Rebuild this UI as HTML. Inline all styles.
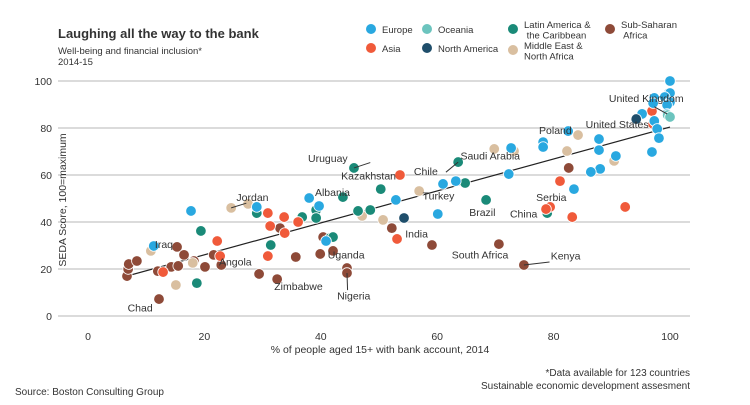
<!DOCTYPE html>
<html><head><meta charset="utf-8"><style>
body{margin:0;background:#fff}
svg text{font-family:"Liberation Sans",sans-serif;fill:#333}
</style></head><body>
<svg id="c" width="750" height="400">
<text x="58" y="38" font-size="13" font-weight="bold" fill="#111">Laughing all the way to the bank</text>
<text x="58" y="54" font-size="9.5" fill="#555">Well-being and financial inclusion*</text>
<text x="58" y="65" font-size="9.5" fill="#555"> 2014-15</text>
<g id="grid"></g><g id="pts"></g><g id="labels"></g><g id="legend"></g>
<text x="0" y="0" font-size="10.5" transform="translate(66,200) rotate(-90)" text-anchor="middle">SEDA Score, 100=maximum</text>
<text x="380" y="353" font-size="10.5" text-anchor="middle">% of people aged 15+ with bank account, 2014</text>
<text x="15" y="395" font-size="10">Source: Boston Consulting Group</text>
<text x="690" y="376" font-size="10" text-anchor="end">*Data available for 123 countries</text>
<text x="690" y="389" font-size="10" text-anchor="end">Sustainable economic development assesment</text>
</svg>
<script>
const xTicks=[0,20,40,60,80,100];
const yTicks=[0,20,40,60,80,100];
const regions=["Europe","Oceania","Latin America &\n the Caribbean","Sub-Saharan\n Africa","Asia","North America","Middle East &\nNorth Africa"];
const colors=["#29a8e0","#6cc4be","#1a8a78","#8e4a38","#f05a3a","#1f4e6b","#d9bfa0"];
const ssaX=[6.7,6.9,7.0,8.4,12.2,12.0,14.3,15.5,15.3,16.5,18.2,20.1,21.6,22.9,29.4,32.5,33.0,35.7,39.9,40.4,42.1,44.5,44.5,52.2,59.1,70.6,74.9,82.6];
const ssaY=[17.0,20.0,22.1,23.4,7.2,19.1,20.9,21.3,29.4,26.0,23.4,20.9,26.0,21.7,17.9,15.7,37.4,25.1,26.4,33.6,27.7,20.4,18.3,37.4,30.2,30.6,21.7,63.0];
const meX=[10.8,15.1,24.6,27.5,47.1,50.7,18.0,69.8,73.2,56.9,84.2,82.3,90.4];
const meY=[27.7,13.2,46.0,47.7,42.6,40.9,22.6,71.1,70.2,53.2,77.0,70.2,66.0];
const euX=[11.3,17.7,29.0,38.0,39.7,40.9,52.9,100,99.8,100,99.1,97.3,97.1,100,99.5,99.5,95.2,97.3,97.8,98.1,96.9,90.7,88.0,86.4,87.8,87.8,82.5,78.2,78.2,83.5,72.7,72.3,63.2,61.0,60.1];
const euY=[29.8,44.7,46.4,50.2,46.8,31.9,49.4,100,94.9,94.9,93.2,92.8,90.6,91.0,89.8,86.0,86.0,83.0,79.6,75.7,69.8,68.1,62.6,61.3,70.6,75.3,78.7,74.0,71.9,54.0,71.5,60.4,57.4,56.2,43.4];
const ocX=[99.6,100];
const ocY=[85.5,84.7];
const naX=[94.2,54.3];
const naY=[83.8,41.7];
const asX=[22.2,22.7,12.9,30.9,33.7,36.1,31.3,33.8,30.9,53.6,53.1,96.9,97.1,81.1,79.4,78.7,83.2,92.3];
const asY=[31.9,25.5,18.7,43.8,42.1,40.0,38.3,35.3,25.5,60.0,32.8,87.2,81.7,57.4,46.4,45.5,42.1,46.4];
const laX=[19.4,18.7,29.0,31.4,36.8,39.2,39.2,41.6,42.1,43.8,45.7,46.4,48.5,50.3,63.6,64.8,68.4,78.9];
const laY=[36.2,14.0,43.8,30.2,42.1,45.1,41.7,33.2,33.6,50.6,63.0,44.7,45.1,54.0,65.5,56.6,49.4,43.8];
const trendX=[6.7,100];
const trendY=[17.0,80.4];
const lblNames=["Uruguay","Kazakhstan","Jordan","Albania","Iraq","Angola","Zimbabwe","Nigeria","Uganda","Chad","India","South Africa","Kenya","Turkey","Brazil","China","Serbia","Chile","Saudi Arabia","Poland","United States","United Kingdom"];
const lblX=[37.8,43.5,25.5,39,11.5,22.5,32,42.8,41.2,6.8,54.5,62.5,79.5,57.5,65.5,72.5,77,56,64,77.5,85.5,89.5];
const lblY=[65.5,58,49,51,29,21.5,11,7,24.5,2,33.5,24.5,24,49.5,42.5,42,49,60,66.5,77.5,80,91];
/* leader lines: label anchor -> point (data coords) */
const ldrX1=[48.5,27.2,44.6,79.3,61.5,97.3];
const ldrY1=[65.3,48.0,11.0,23.0,61.2,89.0];
const ldrX2=[45.7,24.6,44.5,74.9,63.6,99.5];
const ldrY2=[63.0,46.0,18.3,21.7,65.5,86.0];
const X=v=>88+v*5.82, Y=v=>316-v*2.35;
const NS="http://www.w3.org/2000/svg";
function mk(t,a,p){const e=document.createElementNS(NS,t);for(const k in a)e.setAttribute(k,a[k]);p.appendChild(e);return e;}
const grid=document.getElementById('grid');
yTicks.forEach(t=>{
 const l=mk('line',{x1:58,x2:690,y1:Y(t),y2:Y(t),stroke:'#cfcfcf','stroke-width':1.5},grid);
 
 
 const tx=mk('text',{x:52,y:Y(t)+4,'font-size':10.5,'text-anchor':'end'},grid);tx.textContent=t;
 
 
});
xTicks.forEach(t=>{
 const tx=mk('text',{x:X(t),y:340,'font-size':10.5,'text-anchor':'middle'},grid);tx.textContent=t;
 
 
});
const pts=document.getElementById('pts');
const tl=mk('line',{x1:X(trendX[0]),y1:Y(trendY[0]),x2:X(trendX[1]),y2:Y(trendY[1]),stroke:'#222','stroke-width':1.2},pts);


const series=[[euX,euY,0],[ocX,ocY,1],[laX,laY,2],[ssaX,ssaY,3],[asX,asY,4],[naX,naY,5],[meX,meY,6]];
const order=[3,6,2,4,0,1,5];
order.forEach(i=>{const [xs,ys,ci]=series.find(s=>s[2]===i);
 xs.forEach((x,j)=>{const c=mk('circle',{cx:X(x),cy:Y(ys[j]),r:5.3,fill:colors[ci],stroke:'#fff','stroke-width':0.8},pts);
  
  });
});
const lg=document.getElementById('labels');
ldrX1.forEach((x,i)=>{const l=mk('line',{x1:X(x),y1:Y(ldrY1[i]),x2:X(ldrX2[i]),y2:Y(ldrY2[i]),stroke:'#333','stroke-width':1},lg);
 
 });
lblNames.forEach((n,i)=>{const t=mk('text',{x:X(lblX[i]),y:Y(lblY[i]),'font-size':10.5},lg);t.textContent=n;
 
 });
const leg=document.getElementById('legend');
const legPos=[[371,29],[427,29],[513,29],[610,29],[371,48],[427,48],[513,50]];
regions.forEach((r,i)=>{const [x,y]=legPos[i];
 const g=mk('g',{},leg);
 
 
 mk('circle',{cx:x,cy:y,r:5,fill:colors[i]},g);
 const lines=r.split('\n');
 lines.forEach((s,k)=>{const t=mk('text',{x:x+11,y:y+4+(k-(lines.length-1)/2)*10.5,'font-size':9.5,fill:'#444'},g);t.textContent=s;t.style.whiteSpace='pre';});
});
</script>
</body></html>
